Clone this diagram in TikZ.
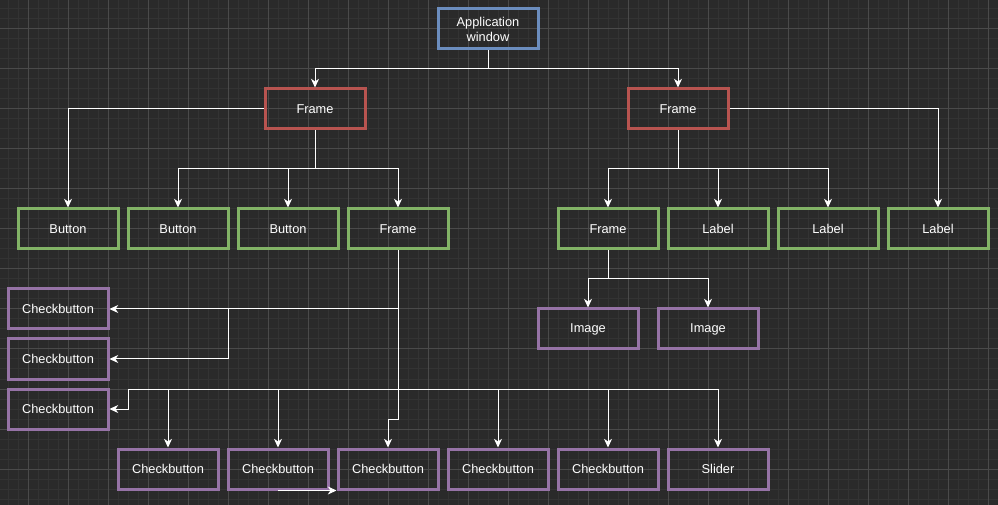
\documentclass[tikz,border=0pt]{standalone}
\usepackage{fontspec}
\setmainfont{Liberation Sans}
\usetikzlibrary{arrows.meta}
\definecolor{bgc}{HTML}{2A2A2A}
\definecolor{minorc}{HTML}{333333}
\definecolor{majorc}{HTML}{4A4A4A}
\definecolor{bluec}{HTML}{6C8EBF}
\definecolor{redc}{HTML}{B85450}
\definecolor{greenc}{HTML}{82B366}
\definecolor{purplec}{HTML}{9673A6}
\tikzset{
  box/.style={draw, line width=2.25pt, minimum width=75pt, minimum height=30pt,
    inner sep=0pt, text=white, align=center, font=\fontsize{9.6}{11.2}\selectfont},
  bluebox/.style={box, draw=bluec},
  redbox/.style={box, draw=redc},
  greenbox/.style={box, draw=greenc},
  purplebox/.style={box, draw=purplec},
  conn/.style={draw=white, line width=0.75pt,
    -{Stealth[length=6.5pt,width=6pt,inset=2pt]}},
}
\begin{document}
\begin{tikzpicture}[x=0.75pt,y=-0.75pt]
\fill[bgc] (0,0) rectangle (998,505);
\useasboundingbox (0,0) rectangle (998,505);
% grid
\foreach \x in {8,18,...,998} \draw[minorc,line width=0.75pt] (\x,0) -- (\x,505);
\foreach \y in {9,19,...,505} \draw[minorc,line width=0.75pt] (0,\y) -- (998,\y);
\foreach \x in {28,68,...,998} \draw[majorc,line width=0.75pt] (\x,0) -- (\x,505);
\foreach \y in {29,69,...,505} \draw[majorc,line width=0.75pt] (0,\y) -- (998,\y);

% nodes
\node[bluebox] (app) at (488,29) {Application\\window};
\node[redbox] (f1) at (315,109) {Frame};
\node[redbox] (f2) at (678,109) {Frame};
\node[greenbox] (b1) at (68,229) {Button};
\node[greenbox] (b2) at (178,229) {Button};
\node[greenbox] (b3) at (288,229) {Button};
\node[greenbox] (fr3) at (398,229) {Frame};
\node[greenbox] (fr2) at (608,229) {Frame};
\node[greenbox] (l1) at (718,229) {Label};
\node[greenbox] (l2) at (828,229) {Label};
\node[greenbox] (l3) at (938,229) {Label};
\node[purplebox] (c1) at (58,309) {Checkbutton};
\node[purplebox] (c2) at (58,359) {Checkbutton};
\node[purplebox] (c3) at (58,409) {Checkbutton};
\node[purplebox] (im1) at (588,329) {Image};
\node[purplebox] (im2) at (708,329) {Image};
\node[purplebox] (d1) at (168,469) {Checkbutton};
\node[purplebox] (d2) at (278,469) {Checkbutton};
\node[purplebox] (d3) at (388,469) {Checkbutton};
\node[purplebox] (d4) at (498,469) {Checkbutton};
\node[purplebox] (d5) at (608,469) {Checkbutton};
\node[purplebox] (d6) at (718,469) {Slider};

% junction coordinates
\coordinate (j0) at (488,69);
\coordinate (j1) at (315,169);
\coordinate (j2) at (678,169);
\coordinate (j3) at (398,309);
\coordinate (j3b) at (228,309);
\coordinate (j4) at (398,389);
\coordinate (j4b) at (128,389);
\coordinate (j5) at (398,419);
\coordinate (j6) at (608,279);

% connectors
\draw[conn] (app.south) -- (j0) -| (f1.north);
\draw[conn] (app.south) -- (j0) -| (f2.north);
\draw[conn] (f1.west) -| (b1.north);
\draw[conn] (f1.south) -- (j1) -| (b2.north);
\draw[conn] (f1.south) -- (j1) -| (b3.north);
\draw[conn] (f1.south) -- (j1) -| (fr3.north);
\draw[conn] (f2.east) -| (l3.north);
\draw[conn] (f2.south) -- (j2) -| (fr2.north);
\draw[conn] (f2.south) -- (j2) -| (l1.north);
\draw[conn] (f2.south) -- (j2) -| (l2.north);
\draw[conn] (fr3.south) -- (j3) -- (c1.east);
\draw[conn] (fr3.south) -- (j3) -- (j3b) |- (c2.east);
\draw[conn] (fr3.south) -- (j4) -- (j4b) |- (c3.east);
\draw[conn] (fr3.south) -- (j4) -| (d1.north);
\draw[conn] (fr3.south) -- (j4) -| (d2.north);
\draw[conn] (fr3.south) -- (j5) -| (d3.north);
\draw[conn] (fr3.south) -- (j4) -| (d4.north);
\draw[conn] (fr3.south) -- (j4) -| (d5.north);
\draw[conn] (fr3.south) -- (j4) -| (d6.north);
\draw[conn] (d2.south) -- (d2.south -| d3.west);
\draw[conn] (fr2.south) -- (j6) -| (im1.north);
\draw[conn] (fr2.south) -- (j6) -| (im2.north);
\end{tikzpicture}
\end{document}
